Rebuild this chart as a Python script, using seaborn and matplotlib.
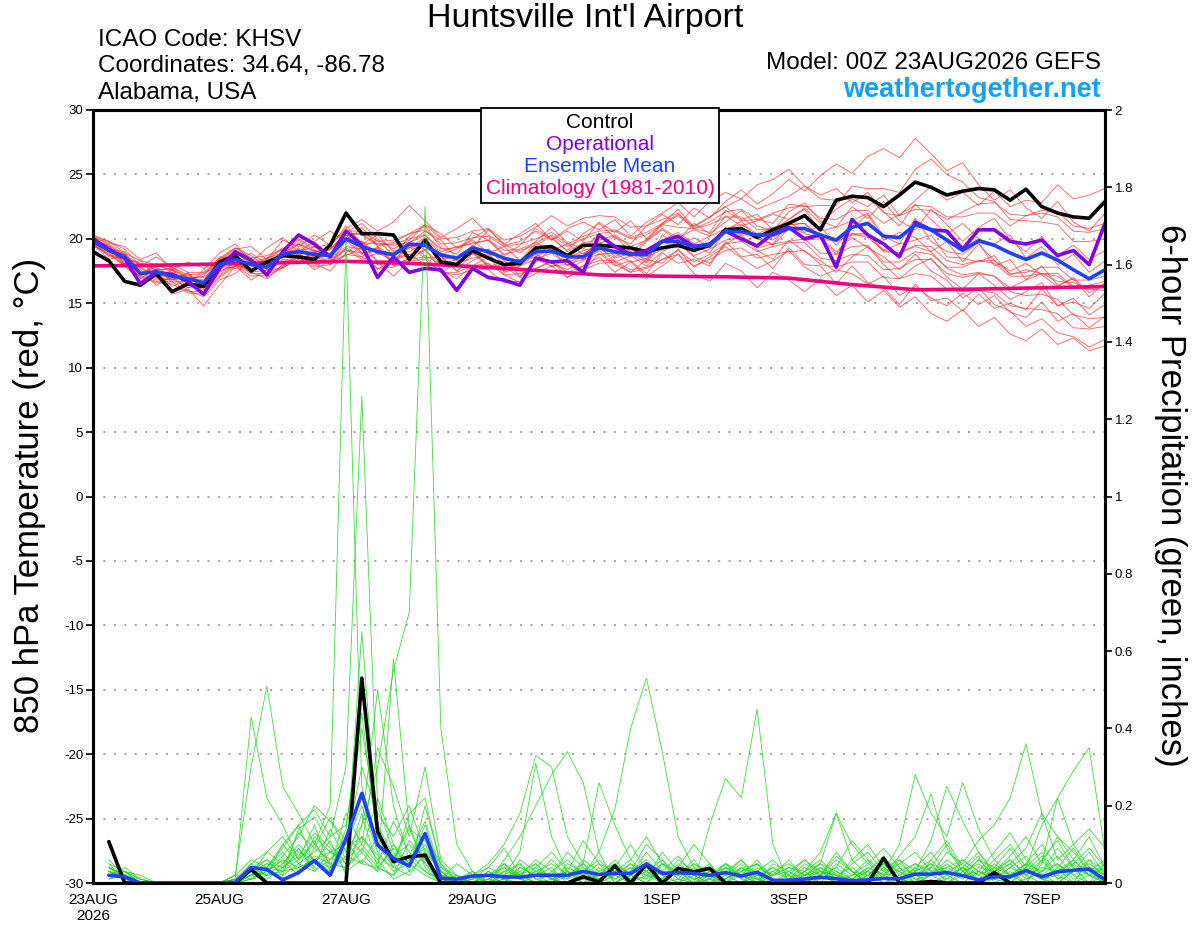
import numpy as np
import pandas as pd
import matplotlib
matplotlib.use('Agg')
import matplotlib.pyplot as plt
import seaborn as sns
from matplotlib.offsetbox import TextArea, VPacker, AnchoredOffsetbox

# forecast hours, 6-hourly from 00Z 23AUG2026 to 00Z 08SEP2026
hours = list(range(0, 385, 6))
precip_hours = hours[1:]
clim_hours = list(range(0, 385, 24))

tick_hours = [0, 48, 96, 144, 216, 264, 312, 360]
tick_labels = ['23AUG\n2026', '25AUG', '27AUG', '29AUG', '1SEP', '3SEP', '5SEP', '7SEP']

# 850 hPa temperature (C)
control_temp = [19.0, 18.3, 16.7, 16.4, 17.3, 15.9, 16.5, 16.3, 18.2, 18.7,
                17.5, 18.2, 18.7, 18.6, 18.4, 19.5, 22.0, 20.4, 20.4, 20.3,
                18.4, 19.9, 18.2, 18.0, 19.1, 18.5, 18.0, 18.1, 19.3, 19.4,
                18.7, 19.5, 19.5, 19.4, 19.3, 19.0, 19.3, 19.5, 19.1, 19.5,
                20.7, 20.8, 20.1, 20.7, 21.2, 21.8, 20.7, 23.0, 23.3, 23.2,
                22.5, 23.4, 24.4, 24.0, 23.4, 23.7, 23.9, 23.8, 23.0, 23.85,
                22.5, 22.0, 21.7, 21.6, 22.9]
oper_temp = [20.0, 19.2, 18.5, 16.5, 17.4, 17.25, 16.7, 15.7, 17.7, 19.0,
             18.35, 17.2, 19.0, 20.3, 19.6, 18.6, 20.6, 19.5, 17.0, 18.6,
             17.4, 17.7, 17.6, 16.0, 17.7, 17.0, 16.8, 16.4, 18.5, 18.2,
             18.3, 17.4, 20.3, 19.4, 18.8, 19.1, 19.8, 20.2, 19.4, 19.6,
             20.6, 20.0, 19.45, 20.4, 20.9, 20.0, 20.3, 17.8, 21.5, 20.3,
             19.6, 18.6, 21.3, 20.7, 20.6, 19.2, 20.7, 20.7, 19.8, 19.6,
             19.9, 18.7, 19.1, 18.0, 21.2]
mean_temp = [19.8, 19.1, 18.6, 17.3, 17.45, 17.1, 16.9, 16.6, 18.0, 18.4,
             18.0, 17.8, 18.8, 19.0, 18.8, 18.7, 20.0, 19.4, 19.0, 18.75,
             19.6, 19.5, 18.75, 18.5, 19.3, 19.0, 18.5, 18.2, 19.0, 19.05,
             18.6, 18.6, 19.3, 19.0, 18.8, 18.75, 19.8, 19.8, 19.4, 19.5,
             20.6, 20.55, 20.3, 20.3, 20.8, 20.8, 20.3, 19.9, 20.9, 21.2,
             20.2, 20.1, 21.1, 20.7, 19.9, 19.1, 19.85, 19.5, 18.9, 18.4,
             18.9, 18.35, 17.6, 16.9, 17.6]
clim_temp = [17.9, 17.95, 18.05, 18.15, 18.25, 18.1, 17.85, 17.55, 17.2,
             17.1, 17.05, 16.95, 16.45, 16.05, 16.1, 16.2, 16.3]

member_temps = [
    [20.2, 19.1, 18.9, 17.2, 18.1, 17.4, 16.5, 17.6, 18.9, 19.6, 18.2, 19.3, 20.1, 19.0, 19.8, 20.6,
     19.7, 20.9, 19.4, 18.6, 20.2, 21.0, 19.3, 18.8, 20.5, 19.9, 18.7, 19.5, 20.8, 20.0, 19.1, 20.4,
     21.2, 20.1, 19.6, 21.0, 21.9, 21.1, 22.4, 21.6, 22.9, 23.8, 22.7, 23.5, 24.6, 23.7, 24.9, 25.8,
     25.1, 26.4, 27.0, 26.3, 27.8, 26.6, 25.3, 25.9, 24.2, 23.0, 23.8, 22.4, 21.6, 22.9, 21.3, 20.6, 22.0],
    [19.6, 18.4, 18.7, 17.6, 16.4, 17.1, 16.0, 15.5, 16.8, 17.3, 18.4, 17.0, 17.8, 18.9, 18.1, 17.5,
     18.9, 19.8, 18.2, 17.1, 18.3, 19.2, 17.6, 16.9, 17.9, 18.6, 17.2, 16.6, 17.7, 18.3, 17.0, 17.9,
     18.6, 17.4, 18.2, 17.1, 17.9, 18.8, 17.3, 16.7, 18.1, 17.5, 16.2, 17.4, 16.8, 15.9, 16.9, 15.6,
     16.4, 15.1, 16.0, 14.7, 15.5, 14.2, 13.6, 14.5, 13.2, 13.9, 12.6, 12.1, 13.0, 11.8, 12.3, 11.3, 11.7],
    [19.9, 19.5, 18.1, 18.3, 17.0, 16.8, 17.4, 16.2, 17.7, 18.6, 17.9, 18.5, 19.3, 18.4, 18.9, 19.4,
     21.0, 19.6, 20.3, 19.0, 19.7, 20.6, 19.9, 18.5, 19.3, 20.7, 19.6, 18.9, 19.8, 20.9, 19.7, 19.2,
     20.4, 19.3, 18.6, 19.8, 20.7, 19.9, 21.2, 20.4, 21.3, 22.2, 21.0, 20.6, 22.1, 22.8, 21.4, 20.9,
     22.5, 21.6, 22.9, 21.4, 20.7, 22.3, 21.1, 19.8, 20.9, 21.6, 19.9, 19.0, 20.2, 18.7, 19.5, 18.4, 19.1],
    [19.5, 18.8, 17.9, 16.7, 17.5, 16.3, 16.9, 16.4, 17.2, 18.2, 17.4, 16.9, 18.0, 18.7, 17.9, 18.4,
     19.2, 18.4, 18.9, 18.3, 19.5, 18.7, 18.0, 18.4, 19.1, 18.0, 17.5, 18.2, 18.9, 17.8, 18.5, 18.9,
     19.4, 18.2, 18.7, 17.9, 19.0, 19.7, 18.6, 18.1, 19.6, 20.3, 19.1, 18.4, 19.9, 19.0, 18.3, 17.4,
     18.6, 19.4, 18.0, 16.9, 17.9, 18.5, 17.0, 16.1, 17.3, 16.4, 15.3, 15.9, 16.6, 14.8, 15.4, 14.1, 14.9],
    [20.3, 19.8, 19.2, 17.9, 18.6, 17.8, 17.0, 16.8, 18.4, 19.3, 18.7, 17.8, 19.0, 19.9, 19.1, 18.8,
     20.5, 21.2, 20.0, 19.2, 19.9, 21.1, 20.4, 19.3, 20.0, 20.8, 19.5, 19.8, 20.6, 19.9, 20.8, 21.3,
     20.7, 21.5, 20.2, 21.3, 22.0, 22.8, 21.7, 22.9, 23.6, 23.1, 24.2, 24.6, 25.4, 24.1, 23.4, 23.9,
     22.8, 23.6, 22.1, 21.0, 22.7, 21.5, 20.4, 21.2, 20.0, 19.6, 20.3, 18.5, 19.4, 18.0, 18.8, 17.4, 18.3],
    [19.7, 19.3, 18.0, 17.8, 16.9, 17.6, 16.2, 16.7, 17.5, 17.9, 18.3, 17.3, 18.4, 18.2, 19.0, 18.0,
     19.3, 18.6, 19.4, 17.9, 18.5, 19.6, 18.7, 17.5, 18.3, 18.9, 17.4, 17.9, 18.8, 18.1, 17.6, 18.3,
     19.1, 18.0, 17.4, 18.4, 18.1, 19.2, 17.8, 18.6, 19.4, 18.5, 17.7, 18.3, 19.1, 17.8, 17.1, 17.6,
     17.3, 16.5, 17.1, 15.6, 16.3, 15.4, 14.8, 15.8, 14.9, 15.6, 14.3, 13.9, 15.1, 13.6, 14.2, 13.1, 14.0],
    [19.8, 18.6, 18.5, 16.5, 17.2, 15.7, 16.1, 14.8, 16.4, 17.9, 16.8, 17.6, 17.7, 18.6, 17.6, 18.3,
     18.7, 19.3, 17.6, 18.5, 18.8, 18.0, 17.4, 18.1, 19.0, 17.8, 18.3, 17.1, 18.2, 19.2, 17.9, 18.7,
     19.8, 18.6, 19.3, 18.2, 20.3, 19.4, 20.1, 19.3, 20.6, 21.4, 20.0, 19.6, 21.3, 20.5, 21.0, 19.5,
     20.8, 21.9, 19.9, 20.5, 20.1, 19.0, 19.8, 18.2, 19.6, 18.3, 17.5, 18.1, 17.2, 16.3, 17.0, 15.8, 16.5],
    [20.1, 19.7, 19.4, 18.4, 18.9, 17.6, 18.2, 17.7, 18.3, 19.2, 19.4, 18.4, 19.9, 19.4, 20.3, 19.5,
     20.8, 21.5, 20.6, 21.3, 22.6, 21.4, 20.1, 20.8, 21.6, 20.3, 19.6, 20.4, 21.2, 19.9, 20.6, 19.8,
     21.3, 20.5, 21.4, 20.0, 21.2, 22.3, 20.9, 21.7, 22.5, 21.5, 21.9, 20.7, 21.5, 22.3, 20.6, 20.9,
     21.4, 22.0, 20.2, 19.6, 21.6, 19.8, 19.0, 18.8, 19.7, 17.9, 18.4, 16.8, 17.9, 16.4, 16.9, 15.5, 16.6],
    [19.9, 19.0, 18.8, 17.1, 17.9, 17.6, 16.6, 17.3, 18.0, 18.3, 18.9, 18.0, 18.6, 19.6, 18.5, 19.2,
     20.0, 19.4, 19.9, 18.7, 19.3, 20.1, 18.8, 19.2, 19.9, 18.9, 19.4, 18.3, 19.7, 19.1, 19.6, 18.8,
     19.6, 20.2, 19.0, 19.9, 20.8, 20.1, 20.7, 20.2, 21.8, 21.0, 21.4, 21.9, 21.5, 22.4, 21.2, 22.3,
     23.1, 22.5, 23.4, 21.8, 23.0, 24.1, 23.0, 23.6, 22.6, 23.7, 22.5, 23.0, 22.8, 24.2, 23.1, 23.4, 23.9],
    [19.7, 19.2, 18.3, 17.7, 17.3, 16.9, 17.3, 16.3, 18.2, 18.0, 17.6, 18.2, 18.5, 19.2, 18.3, 18.9,
     20.3, 18.9, 19.1, 18.9, 19.0, 19.7, 18.4, 18.6, 18.8, 19.2, 18.0, 18.4, 18.6, 19.3, 18.2, 18.6,
     19.3, 18.5, 18.9, 18.1, 19.8, 19.3, 19.5, 18.9, 20.6, 19.8, 20.2, 19.5, 20.8, 19.9, 20.0, 18.8,
     20.4, 20.1, 19.1, 19.6, 19.9, 20.3, 18.6, 18.5, 18.2, 18.7, 17.2, 17.6, 17.3, 16.7, 16.6, 16.1, 16.0],
    [19.6, 18.7, 18.6, 16.9, 17.7, 16.6, 16.8, 16.0, 17.9, 17.7, 18.1, 17.2, 18.8, 18.5, 18.7, 18.0,
     19.9, 18.8, 19.3, 18.1, 19.4, 18.5, 18.6, 17.5, 18.9, 17.9, 17.9, 17.0, 18.4, 17.9, 18.0, 17.4,
     18.9, 17.9, 18.3, 17.3, 18.9, 18.1, 18.4, 17.9, 19.8, 18.6, 18.8, 17.7, 19.3, 18.0, 17.9, 16.5,
     17.9, 16.6, 16.2, 14.9, 16.5, 15.2, 15.4, 14.4, 15.7, 14.6, 15.0, 14.5, 16.1, 14.8, 15.1, 14.6, 15.8],
    [20.0, 19.4, 18.5, 18.1, 17.6, 17.7, 16.9, 17.1, 18.6, 18.4, 18.0, 18.4, 19.2, 19.0, 19.4, 18.6,
     20.7, 19.7, 19.6, 19.5, 19.7, 20.3, 19.0, 19.4, 19.6, 19.9, 18.8, 19.1, 19.5, 20.2, 19.0, 19.7,
     19.9, 20.3, 19.4, 19.9, 21.1, 20.9, 20.8, 20.5, 22.2, 21.4, 21.5, 21.2, 22.7, 22.5, 22.6, 22.6,
     24.1, 23.9, 23.9, 23.6, 25.4, 26.2, 25.0, 24.4, 23.2, 22.9, 21.5, 21.4, 21.3, 21.1, 19.8, 19.8, 20.0],
    [19.8, 19.0, 18.8, 17.2, 17.6, 16.8, 17.0, 16.2, 18.1, 18.6, 17.7, 18.0, 18.6, 19.3, 18.6, 18.8,
     20.0, 19.8, 18.8, 18.9, 19.3, 19.8, 18.6, 18.6, 19.0, 19.2, 18.3, 18.4, 18.9, 19.4, 18.5, 19.1,
     19.4, 19.5, 18.9, 19.2, 19.9, 20.5, 19.6, 20.2, 20.8, 21.1, 20.4, 20.9, 21.1, 21.2, 20.2, 20.0,
     20.4, 20.4, 19.1, 18.9, 19.4, 19.0, 17.7, 17.2, 17.4, 17.1, 15.9, 15.6, 15.7, 15.3, 14.1, 13.8, 13.9],
    [20.1, 19.6, 18.7, 18.0, 17.9, 17.8, 17.2, 17.3, 18.3, 19.0, 18.2, 18.5, 18.9, 19.7, 19.0, 19.2,
     20.5, 20.3, 19.5, 19.6, 20.0, 20.3, 19.2, 19.3, 19.7, 19.9, 19.1, 19.2, 19.7, 20.3, 19.4, 20.0,
     20.4, 20.6, 20.0, 20.3, 21.1, 21.8, 20.8, 21.3, 22.1, 22.3, 21.5, 22.0, 22.4, 22.6, 21.6, 21.5,
     22.2, 22.2, 21.2, 21.9, 22.6, 22.5, 21.7, 21.7, 22.0, 22.0, 21.0, 21.8, 22.2, 22.1, 21.0, 20.8, 21.2],
    [19.4, 18.9, 17.9, 17.0, 16.6, 16.5, 15.8, 15.7, 17.0, 17.9, 17.1, 17.2, 17.8, 18.4, 17.8, 18.0,
     18.8, 18.6, 17.7, 17.8, 18.3, 18.4, 17.4, 17.4, 17.9, 18.1, 17.2, 17.3, 17.7, 18.2, 17.4, 17.9,
     18.3, 18.3, 17.6, 17.8, 18.4, 18.8, 17.9, 18.4, 19.1, 19.3, 18.5, 18.8, 19.0, 19.1, 18.0, 17.8,
     18.2, 18.2, 17.0, 16.9, 17.3, 17.1, 16.1, 15.9, 16.0, 15.8, 14.8, 14.6, 14.5, 14.2, 13.1, 13.0, 13.2],
    [20.0, 19.2, 19.0, 17.4, 17.8, 17.0, 17.2, 16.5, 18.4, 18.4, 18.4, 17.7, 19.1, 18.9, 19.1, 18.6,
     20.3, 19.2, 19.2, 18.3, 19.5, 19.2, 18.9, 18.3, 19.5, 18.8, 18.6, 17.9, 19.2, 18.9, 18.7, 18.4,
     19.6, 18.8, 19.0, 18.4, 19.9, 19.7, 19.6, 19.3, 20.9, 20.3, 20.3, 19.9, 21.0, 20.4, 20.1, 19.0,
     20.1, 19.3, 18.6, 17.6, 18.8, 17.5, 16.8, 15.4, 16.2, 14.9, 14.4, 13.2, 13.8, 12.7, 12.4, 11.6, 12.2],
    [19.9, 19.5, 18.6, 17.9, 17.6, 17.6, 17.0, 17.0, 18.0, 18.9, 18.1, 18.3, 18.9, 19.6, 19.0, 19.2,
     20.4, 20.4, 19.6, 19.7, 20.4, 21.1, 20.0, 20.1, 20.6, 20.8, 19.9, 20.2, 20.9, 21.8, 21.0, 21.6,
     21.8, 21.7, 20.9, 21.0, 21.5, 22.0, 20.8, 21.1, 21.7, 21.7, 20.7, 20.8, 21.1, 21.2, 20.0, 19.8,
     20.3, 20.3, 19.0, 18.9, 19.5, 19.4, 18.3, 18.0, 18.3, 18.1, 17.1, 17.1, 17.3, 17.1, 16.2, 16.1, 16.4],
    [19.6, 19.2, 18.1, 17.3, 16.8, 16.9, 16.2, 16.2, 17.4, 18.2, 17.4, 17.6, 18.2, 18.8, 18.2, 18.5,
     19.4, 19.2, 18.3, 18.3, 18.8, 19.1, 18.0, 18.1, 18.5, 18.7, 17.8, 17.9, 18.4, 18.9, 18.0, 18.4,
     18.8, 18.9, 18.2, 18.5, 19.2, 19.6, 18.7, 19.2, 19.9, 20.1, 19.3, 19.6, 19.8, 20.0, 18.9, 18.8,
     19.4, 19.5, 18.2, 18.2, 19.0, 18.8, 17.8, 17.8, 18.3, 18.3, 17.3, 17.4, 17.8, 17.8, 16.8, 16.8, 17.1],
    [20.2, 19.8, 18.9, 18.3, 18.0, 18.0, 17.4, 17.4, 18.5, 19.3, 18.5, 18.7, 19.2, 20.0, 19.3, 19.6,
     20.6, 20.6, 19.8, 19.9, 20.4, 20.7, 19.6, 19.7, 20.1, 20.2, 19.4, 19.6, 20.0, 20.5, 19.6, 20.2,
     20.6, 20.7, 20.1, 20.5, 21.2, 21.9, 21.0, 21.7, 22.5, 23.1, 22.3, 22.8, 23.3, 24.1, 23.1, 23.0,
     23.4, 23.3, 22.0, 21.8, 22.3, 22.2, 21.5, 22.1, 22.7, 22.8, 21.9, 21.8, 22.0, 21.7, 20.6, 20.5, 20.8],
    [19.5, 19.0, 18.0, 17.1, 16.7, 16.7, 15.9, 15.9, 17.1, 18.0, 17.3, 17.3, 17.9, 18.6, 18.1, 18.3,
     19.1, 18.9, 18.0, 18.1, 18.4, 18.6, 17.4, 17.2, 17.6, 17.6, 16.6, 16.7, 17.3, 17.9, 17.0, 17.6,
     18.1, 18.2, 17.4, 17.7, 18.4, 19.1, 18.2, 18.8, 19.6, 19.8, 19.0, 19.4, 19.7, 19.7, 18.5, 18.3,
     18.8, 18.7, 17.6, 17.7, 18.4, 18.4, 17.3, 17.0, 17.3, 17.1, 16.2, 16.8, 17.3, 17.3, 16.3, 16.4, 16.7],
]

# 6-hour precipitation (inches), valid 06Z 23AUG onward
control_precip = [0.107, 0, 0, 0, 0, 0, 0, 0, 0, 0.035, 0, 0, 0, 0, 0, 0,
                  0.53, 0.133, 0.055, 0.068, 0.072, 0, 0, 0, 0, 0, 0, 0, 0, 0, 0.016, 0.003,
                  0.044, 0, 0.049, 0, 0.038, 0.029, 0.038, 0, 0, 0, 0, 0, 0, 0, 0, 0,
                  0, 0.064, 0, 0, 0.004, 0, 0, 0, 0.027, 0, 0, 0, 0, 0, 0, 0]
mean_precip = [0.02, 0.016, 0, 0, 0, 0, 0, 0, 0.002, 0.04, 0.035, 0.008, 0.027, 0.058, 0.02, 0.115,
               0.232, 0.098, 0.064, 0.044, 0.128, 0.012, 0.01, 0.018, 0.02, 0.016, 0.015, 0.02, 0.02, 0.02, 0.03, 0.022,
               0.025, 0.025, 0.049, 0.025, 0.027, 0.025, 0.02, 0.027, 0.018, 0.028, 0.007, 0.007, 0.01, 0.015, 0.011, 0.006,
               0.008, 0.012, 0.011, 0.023, 0.023, 0.027, 0.019, 0.008, 0.016, 0.016, 0.032, 0.016, 0.029, 0.033, 0.036, 0.008]

member_precip = [
    [.04, .02, 0, 0, 0, 0, 0, 0, .01, .05, .08, .12, .06, .10, .20, 1.66,
     .25, .10, .04, .06, .03, 0, 0, 0, 0, .01, .03, 0, 0, .02, .05, 0,
     0, .02, .08, .03, 0, 0, .01, .05, .02, 0, 0, 0, .03, .06, .02, 0,
     0, 0, .01, .04, .08, .02, 0, 0, .03, .06, .02, 0, .04, .09, .03, 0],
    [.02, .03, .01, 0, 0, 0, 0, 0, 0, .02, .04, .09, .15, .19, .12, .30,
     1.26, .20, .08, .04, .12, .05, .01, 0, .02, 0, 0, .04, .08, .03, 0, .01,
     .04, .10, .03, 0, 0, .02, .05, 0, 0, .02, .01, 0, 0, .02, .08, .03,
     0, .02, .06, .01, 0, 0, .03, .07, 0, .02, .05, .10, .04, 0, .02, .05],
    [.05, .03, 0, 0, 0, 0, 0, 0, 0, .03, .06, .04, .13, .09, .17, .08,
     .15, .30, .55, .70, 1.75, .40, .10, .03, 0, .05, .02, 0, .01, 0, .03, .06,
     .02, 0, 0, .05, .03, 0, 0, .01, .04, 0, 0, .03, .06, .02, 0, 0,
     .02, .05, .01, 0, .06, .11, .04, 0, .01, .03, 0, .05, .12, .06, .02, 0],
    [.03, .01, 0, 0, 0, 0, 0, 0, .02, .30, .51, .25, .18, .10, .05, .04,
     .08, .03, .10, .05, .02, 0, 0, .01, .04, .09, .02, 0, 0, .03, .11, .05,
     0, .03, .10, .06, .02, 0, .01, 0, .04, .02, 0, .01, .05, .03, 0, .02,
     .05, .09, .04, 0, 0, .02, .06, .03, .01, 0, .04, .08, .02, 0, .06, .03],
    [.02, .04, .01, 0, 0, 0, 0, 0, .01, .43, .22, .15, .06, .11, .03, .07,
     .05, .12, .06, .15, .04, 0, .02, 0, 0, .02, .08, .31, .12, .03, 0, .02,
     .06, .02, 0, 0, .04, .10, .05, 0, .02, .01, 0, 0, .03, .05, .18, .06,
     .02, 0, 0, .04, .02, 0, 0, .03, .08, .13, .06, .02, 0, .03, .06, .01],
    [.06, .02, 0, 0, 0, 0, 0, 0, 0, .05, .03, .07, .12, .20, .16, .11,
     .05, .04, .02, .07, .16, .03, 0, 0, .01, 0, .03, .05, .01, 0, .02, .08,
     .19, .40, .53, .34, .12, .04, 0, .02, .06, .01, 0, 0, .02, .05, .01, 0,
     .03, .07, .02, 0, .04, .10, .03, .01, .05, .02, 0, .06, .11, .04, 0, .02],
    [.01, .03, .02, 0, 0, 0, 0, 0, 0, .02, .05, .03, .09, .04, .14, .06,
     .10, .05, .16, .08, .03, .01, .05, .02, 0, 0, .04, .02, 0, .05, .03, 0,
     .02, .05, .01, .08, .03, 0, .15, .27, .22, .45, .10, 0, .01, .04, .02, 0,
     0, .03, .05, .02, 0, .01, .04, .08, .02, 0, .03, .07, .01, .05, .09, .04],
    [.04, .02, 0, 0, 0, 0, 0, 0, .01, .03, .02, .10, .05, .08, .12, .15,
     .40, .15, .07, .10, .05, .02, 0, .03, 0, .06, .12, .20, .28, .34, .26, .08,
     0, .02, .04, 0, .01, .05, .02, 0, 0, .03, .06, .02, 0, .01, .04, .11,
     .06, .01, 0, .03, .05, 0, .02, .06, .04, 0, .01, .03, .07, .02, 0, .05],
    [.03, .01, 0, 0, 0, 0, 0, 0, 0, .04, .06, .02, .14, .17, .10, .05,
     .65, .12, .04, .02, .08, .03, 0, .02, .05, .10, .18, .33, .30, .12, .05, .26,
     .15, .06, .02, 0, .03, .01, 0, .04, .02, 0, .05, .03, 0, .02, .07, .03,
     0, .04, .01, 0, .02, .06, .03, 0, .04, .02, .05, .01, 0, .03, .08, .02],
    [.02, .03, 0, 0, 0, 0, 0, 0, .02, .06, .04, .08, .03, .07, .05, .04,
     .09, .04, .02, .11, .06, .01, 0, 0, .03, .01, 0, .02, .04, 0, .01, .03,
     .05, .02, 0, .03, .07, .02, 0, .01, .03, .05, 0, .02, .06, .03, .01, .05,
     .08, .03, .10, .28, .18, .12, .26, .14, .06, .02, .04, .01, .03, .06, .02, 0],
    [.05, .01, 0, 0, 0, 0, 0, 0, 0, .01, .03, .06, .04, .12, .08, .10,
     .20, .08, .03, .05, .10, .02, .01, 0, 0, .03, .05, .01, 0, .04, .02, .01,
     .03, 0, .02, .05, .01, 0, .03, .02, 0, .04, .02, .06, .01, .03, .02, .04,
     .01, .05, .03, 0, .02, .08, .05, .11, .15, .22, .36, .18, .12, .08, .03, .01],
    [.03, .02, .01, 0, 0, 0, 0, 0, .01, .02, .08, .05, .10, .06, .04, .09,
     .12, .06, .01, .03, .20, .05, 0, .01, .02, 0, .06, .03, .01, .02, 0, .04,
     .01, .03, .06, .02, 0, .04, .02, .05, .01, 0, .02, .04, .03, 0, .05, .02,
     .03, 0, .02, .05, .03, .01, .04, .02, .06, .10, .04, .15, .22, .29, .35, .08],
    [.02, .01, 0, 0, 0, 0, 0, 0, 0, .03, .05, .04, .07, .13, .09, .03,
     .06, .03, .58, .14, .05, 0, .02, 0, .01, .04, .02, .06, .03, .01, .05, .02,
     .04, .01, .03, 0, .05, .02, 0, .03, .06, .02, .04, .01, .03, .08, .18, .10,
     .05, .02, .07, .12, .23, .09, .03, .05, .01, .04, .07, .02, .05, .01, .03, .06],
    [.04, .02, 0, 0, 0, 0, 0, 0, .02, .01, .04, .10, .15, .05, .11, .02,
     .15, .50, .20, .06, .09, .03, .01, .03, 0, .01, .04, .02, .06, .02, .03, 0,
     .02, .05, .03, .01, .04, .01, .02, 0, .03, .05, .01, 0, .02, .04, .01, .06,
     .10, .04, .06, .03, .11, .25, .16, .08, .03, .07, .12, .05, .22, .10, .04, .03],
    [.02, .03, .01, 0, 0, 0, 0, 0, 0, .02, .03, .06, .02, .09, .06, .12,
     .08, .22, .10, .03, .07, .01, 0, 0, .02, .05, .01, 0, .03, .06, .02, .01,
     0, .02, .05, .03, .02, .06, .01, .03, .02, 0, .03, .05, .02, .01, .03, 0,
     .02, .05, .01, .03, .06, .02, .04, .01, .03, .05, .09, .18, .06, .10, .14, .09],
    [.01, .02, 0, 0, 0, 0, 0, 0, 0, .01, .02, .05, .09, .03, .06, .10,
     .30, .18, .12, .20, .08, .04, .02, 0, .01, .03, .02, .05, .01, .03, .02, .05,
     .03, .06, .12, .05, .02, .03, .01, .04, .02, .06, .01, 0, .02, .05, .03, .01,
     .04, .02, .05, .08, .03, .04, .02, .06, .02, .01, .05, .03, .09, .04, .02, .01],
    [.03, .01, 0, 0, 0, 0, 0, 0, 0, .04, .02, .03, .06, .15, .04, .18,
     .10, .35, .25, .12, .30, .06, .02, 0, 0, .02, .01, .03, .05, .02, .04, .01,
     .02, .04, .03, .06, .01, 0, .02, .05, .03, .01, .04, .02, 0, .03, .01, .02,
     .06, .03, .01, .02, .04, .03, .05, .02, .04, .09, .03, .01, .02, .06, .12, .04],
    [.02, .02, 0, 0, 0, 0, 0, 0, 0, .01, .03, .02, .05, .03, .08, .06,
     .12, .07, .04, .18, .22, .04, .01, .02, .04, .02, .05, .01, .02, .08, .04, .02,
     .05, .02, .01, .03, .02, .05, .03, .01, .04, .02, .03, .01, .04, .02, .06, .03,
     .02, .06, .03, .05, .02, .04, .06, .03, .02, .05, .01, .03, .05, .02, .04, .02],
    [.04, .01, 0, 0, 0, 0, 0, 0, 0, .02, .01, .04, .08, .06, .03, .14,
     .44, .10, .06, .14, .11, .03, 0, .01, .02, .04, .01, .03, .02, .01, .06, .03,
     .01, .04, .02, .01, .06, .03, .02, .04, .01, .05, .02, .03, .01, .02, .04, .01,
     .03, .01, .04, .02, .05, .03, .01, .04, .03, .06, .02, .04, .03, .05, .02, .04],
    [.03, .02, 0, 0, 0, 0, 0, 0, 0, .02, .04, .03, .04, .06, .08, .05,
     .18, .04, .09, .05, .15, .02, .01, 0, .03, .01, .02, .04, .01, .03, .01, .02,
     .03, .01, .04, .02, .03, .01, .03, .02, .05, .01, .02, .04, .02, .03, .02, .01,
     .04, .02, .03, .01, .02, .05, .02, .03, .01, .04, .02, .06, .01, .03, .05, .02],
]

legend_labels = ['Control', 'Operational', 'Ensemble Mean', 'Climatology (1981-2010)']
legend_colors = ['black', '#8000e0', '#2040ff', '#f0007f']

# long tables for the ensemble members
temp_rows = []
for k, vals in enumerate(member_temps):
    for h, v in zip(hours, vals):
        temp_rows.append((k, h, v))
temp_df = pd.DataFrame(temp_rows, columns=['member', 'hour', 'temp'])

precip_rows = []
for k, vals in enumerate(member_precip):
    for h, v in zip(precip_hours, vals):
        precip_rows.append((k, h, v))
precip_df = pd.DataFrame(precip_rows, columns=['member', 'hour', 'precip'])

sns.set_style('white')
plt.rcParams['font.family'] = ['Liberation Sans', 'DejaVu Sans']
plt.rcParams['axes.unicode_minus'] = False
plt.rcParams['text.color'] = 'black'
plt.rcParams['xtick.color'] = 'black'
plt.rcParams['ytick.color'] = 'black'

fig = plt.figure(figsize=(12, 9.27), dpi=100)
ax1 = fig.add_axes([93 / 1200, 1 - 883 / 927, 1012 / 1200, 773 / 927])
ax2 = ax1.twinx()

# temperature
sns.lineplot(data=temp_df, x='hour', y='temp', units='member', estimator=None,
             color='#ff2424', lw=0.6, alpha=0.75, ax=ax1, legend=False)
sns.lineplot(x=clim_hours, y=clim_temp, color=legend_colors[3], lw=2.6, ax=ax1)
sns.lineplot(x=hours, y=control_temp, color=legend_colors[0], lw=2.6, ax=ax1)
sns.lineplot(x=hours, y=oper_temp, color=legend_colors[1], lw=2.6, ax=ax1)
sns.lineplot(x=hours, y=mean_temp, color=legend_colors[2], lw=2.6, ax=ax1)

# precipitation
sns.lineplot(data=precip_df, x='hour', y='precip', units='member', estimator=None,
             color='#1ed61e', lw=0.6, alpha=0.85, ax=ax2, legend=False)
sns.lineplot(x=precip_hours, y=control_precip, color='black', lw=2.6, ax=ax2)
sns.lineplot(x=precip_hours, y=mean_precip, color=legend_colors[2], lw=2.6, ax=ax2)

ax1.set_xlim(0, 384)
ax1.set_ylim(-30, 30)
ax2.set_ylim(0, 2)
ax1.set_yticks(range(-30, 31, 5))
ax2.set_yticks(np.arange(0, 2.01, 0.2))
ax2.yaxis.set_major_formatter(plt.FormatStrFormatter('%g'))
ax1.set_xticks(tick_hours, tick_labels)
ax1.set_xlabel('')
ax1.set_ylabel('')
ax2.set_ylabel('')

ax1.yaxis.grid(True, color='#a8a8a8', linestyle=(0, (1, 4)), lw=1.5)
ax1.xaxis.grid(False)
ax2.grid(False)

for ax in (ax1, ax2):
    for sp in ax.spines.values():
        sp.set_linewidth(2.2)
        sp.set_color('black')
ax1.tick_params(axis='x', direction='out', length=4, width=1.2, labelsize=11, pad=3)
ax1.tick_params(axis='y', direction='out', length=5, width=1.2, labelsize=9.5, pad=2, left=True)
ax2.tick_params(axis='y', direction='out', length=5, width=1.2, labelsize=9.5, pad=2, right=True)

# legend box
areas = [TextArea(lab, textprops=dict(color=c, fontsize=15))
         for lab, c in zip(legend_labels, legend_colors)]
pack = VPacker(children=areas, align='center', pad=0, sep=2.3)
box = AnchoredOffsetbox(loc='upper center', child=pack, pad=0.35, borderpad=0,
                        frameon=True, bbox_to_anchor=(0.501, 1.003),
                        bbox_transform=ax2.transAxes)
box.patch.set_edgecolor('black')
box.patch.set_linewidth(1.3)
ax2.add_artist(box)

fig.text(0.4875, 1 - 18 / 927, "Huntsville Int'l Airport", ha='center', va='center', fontsize=24.5)
fig.text(98 / 1200, 1 - 40 / 927, 'ICAO Code: KHSV', ha='left', va='center', fontsize=17.5)
fig.text(98 / 1200, 1 - 66 / 927, 'Coordinates: 34.64, -86.78', ha='left', va='center', fontsize=17.5)
fig.text(98 / 1200, 1 - 93 / 927, 'Alabama, USA', ha='left', va='center', fontsize=17.5)
fig.text(1101 / 1200, 1 - 63 / 927, 'Model: 00Z 23AUG2026 GEFS', ha='right', va='center', fontsize=17.5)
fig.text(1101 / 1200, 1 - 90 / 927, 'weathertogether.net', ha='right', va='center',
         fontsize=19.5, fontweight='bold', color='#16a0f5')
fig.text(30 / 1200, 1 - 495 / 927, '850 hPa Temperature (red, °C)', rotation=90,
         ha='center', va='center', fontsize=25)
fig.text(1170 / 1200, 1 - 495 / 927, '6-hour Precipitation (green, inches)', rotation=270,
         ha='center', va='center', fontsize=25)

fig.savefig('out.png', dpi=100)
